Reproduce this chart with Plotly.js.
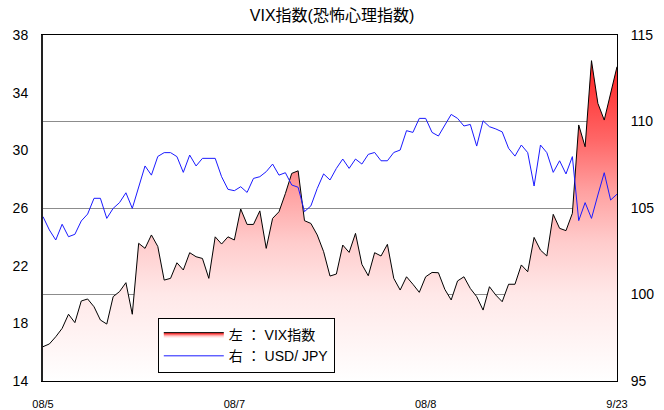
<!DOCTYPE html>
<html>
<head>
<meta charset="utf-8">
<script src="https://cdn.plot.ly/plotly-3.0.1.min.js"></script>
<style>html,body{margin:0;padding:0;background:#fff;}#chart{width:664px;height:410px;}</style>
</head>
<body>
<div id="chart"></div>
<script>
// x-axis tick labels (positions are data indices)
var tickIndex = [0, 30, 60, 90];
var tickLabels = ['08/5', '08/7', '08/8', '9/23'];

// VIX index (left axis)
var vix = [16.38,16.57,17.07,17.65,18.63,18.05,19.55,19.69,19.15,18.23,
17.95,19.85,20.2,20.82,18.63,23.55,23.2,24.13,23.33,21.0,
21.12,22.2,21.7,22.9,22.62,22.5,21.12,24.0,23.5,24.0,
23.78,25.93,24.86,24.86,25.8,23.2,25.28,25.74,27.0,28.4,
28.58,25.12,24.93,24.13,22.97,21.28,21.42,23.43,22.92,24.24,
22.09,21.3,22.9,22.67,23.48,21.12,20.31,21.23,20.71,20.15,
21.23,21.53,21.51,20.36,19.62,20.94,21.23,20.42,19.85,18.92,
20.54,19.96,19.5,20.71,20.71,22.05,21.58,23.96,23.08,22.67,
25.56,24.59,24.43,25.63,31.76,30.25,36.22,33.26,32.1,33.9,
35.8];

// USD/JPY (right axis)
var usdjpy = [104.5,103.73,103.15,104.06,103.34,103.48,104.25,104.65,105.56,105.56,
104.4,104.98,105.31,105.88,104.98,106.23,107.43,106.9,107.98,108.2,
108.2,107.97,107.06,108.06,107.43,107.87,107.87,107.87,106.81,106.08,
106.0,106.23,105.9,106.71,106.81,107.1,107.54,106.9,107.04,106.33,
106.2,104.79,105.12,106.13,106.97,106.62,107.29,107.83,107.29,107.83,
107.54,108.1,108.21,107.73,107.73,108.21,108.35,109.47,109.37,110.18,
110.18,109.37,109.16,109.8,110.41,110.18,109.74,109.83,108.58,110.04,
109.7,109.57,109.4,108.45,108.0,108.64,108.2,106.27,108.64,108.2,
107.06,107.73,106.97,107.97,104.27,105.31,104.4,105.75,107.04,105.46,
105.8];

// legend labels
var seriesNames = ['左 ： VIX指数', '右 ： USD/ JPY'];

var xIdx = vix.map(function(_, i){ return i; });
var FONT = 'Liberation Sans, Arial, "Noto Sans CJK JP", sans-serif';

var traces = [
  {
    x: xIdx, y: vix, type: 'scatter', mode: 'lines', name: seriesNames[0],
    line: {color: '#000000', width: 1},
    fill: 'tozeroy',
    fillgradient: {type: 'vertical', start: 14, stop: 38,
      colorscale: [[0, '#ffffff'], [0.25, '#ffe8e8'], [0.4, '#ffcccc'], [0.55, '#ffa0a0'],
                   [0.7, '#ff6666'], [0.85, '#ff3838'], [1, '#ff1a1a']]},
    hoverinfo: 'skip'
  },
  {
    x: xIdx, y: usdjpy, type: 'scatter', mode: 'lines', name: seriesNames[1],
    yaxis: 'y2',
    line: {color: '#1a1aff', width: 1},
    hoverinfo: 'skip'
  }
];

var layout = {
  width: 664, height: 410,
  margin: {l: 43, r: 47, t: 35, b: 29},
  paper_bgcolor: '#ffffff', plot_bgcolor: '#ffffff',
  font: {family: FONT, size: 14, color: '#000'},
  showlegend: true,
  title: {text: 'VIX指数(恐怖心理指数)', font: {family: FONT, size: 16, color: '#000'},
          x: 0.5, xanchor: 'center', y: 0.963, yanchor: 'middle'},
  xaxis: {
    range: [0, 90], tickvals: tickIndex, ticktext: tickLabels,
    showgrid: false, zeroline: false, showline: true, linecolor: '#000', linewidth: 1,
    mirror: true, ticks: '', ticklabelstandoff: 13,
    tickfont: {family: FONT, size: 11, color: '#000'}, fixedrange: true
  },
  yaxis: {
    range: [14, 38], tickvals: [14, 18, 22, 26, 30, 34, 38],
    showgrid: false, zeroline: false, showline: true, linecolor: '#222', linewidth: 2,
    ticks: '', ticklabelstandoff: 10,
    tickfont: {family: FONT, size: 14, color: '#000'}, fixedrange: true
  },
  yaxis2: {
    range: [95, 115], tickvals: [95, 100, 105, 110, 115],
    overlaying: 'y', side: 'right',
    showgrid: true, gridcolor: '#8c8c8c', gridwidth: 1,
    zeroline: false, showline: true, linecolor: '#000', linewidth: 1,
    ticks: '', ticklabelstandoff: 10,
    tickfont: {family: FONT, size: 14, color: '#000'}, fixedrange: true
  },
  legend: {
    x: 0.2, y: 0.182, xanchor: 'left', yanchor: 'top',
    bgcolor: '#ffffff', bordercolor: '#000', borderwidth: 1,
    font: {family: FONT, size: 14, color: '#000'},
    itemwidth: 60, tracegroupgap: 0
  }
};

Plotly.newPlot('chart', traces, layout, {staticPlot: true, displayModeBar: false});
</script>
</body>
</html>
